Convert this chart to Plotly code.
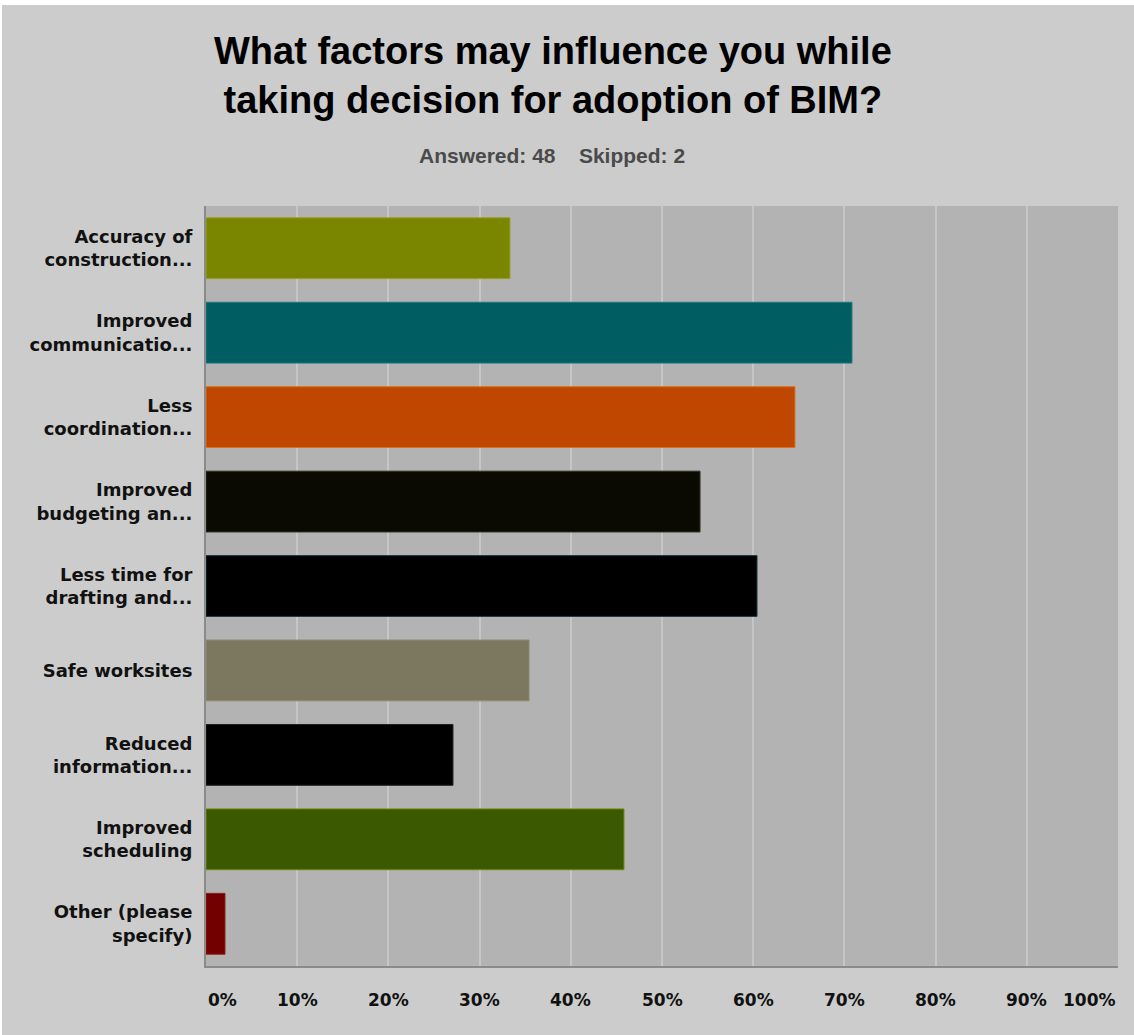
import plotly.graph_objects as go

# Survey results: share of respondents choosing each factor
categories = [
    "Accuracy of<br>construction...",
    "Improved<br>communicatio...",
    "Less<br>coordination...",
    "Improved<br>budgeting an...",
    "Less time for<br>drafting and...",
    "Safe worksites",
    "Reduced<br>information...",
    "Improved<br>scheduling",
    "Other (please<br>specify)",
]
percent = [33.33, 70.83, 64.58, 54.17, 60.42, 35.42, 27.08, 45.83, 2.08]
bar_colors = ["#7a8500", "#005d62", "#bf4700", "#0a0a02", "#000000",
              "#7b785f", "#000000", "#3b5a00", "#730000"]
edge_colors = ["#9aa020", "#1f7a7c", "#d8731c", "#303020", "#1d3a44",
               "#8e8a70", "#202020", "#6a8a10", "#8a1a1a"]
x_ticks = [0, 10, 20, 30, 40, 50, 60, 70, 80, 90, 100]
x_tick_labels = ["0%", "10%", "20%", "30%", "40%", "50%", "60%", "70%", "80%", "90%", "100%"]

W, H = 1134, 1035
L, R, T, B = 206, 16, 206, 69
pw = W - L - R
ph = H - T - B
TITLE_FONT = "Liberation Sans, Arial, sans-serif"
LABEL_FONT = "DejaVu Sans, Verdana, sans-serif"


def px_x(x):
    """Page pixel column -> plot-paper fraction."""
    return (x - L) / pw


def px_y(y):
    """Page pixel row (from top) -> plot-paper fraction."""
    return (H - B - y) / ph


fig = go.Figure(
    go.Bar(
        x=percent,
        y=categories,
        orientation="h",
        marker=dict(color=bar_colors, line=dict(color=edge_colors, width=1)),
        width=0.72,
        hoverinfo="x+y",
    )
)

# x tick labels: first one left-aligned, last one right-aligned, the rest centred
for v, t in zip(x_ticks, x_tick_labels):
    anchor = "left" if v == x_ticks[0] else ("right" if v == x_ticks[-1] else "center")
    fig.add_annotation(
        x=v, y=0, xref="x", yref="paper", yshift=-34,
        text=f"<b>{t}</b>", showarrow=False, xanchor=anchor, yanchor="middle",
        font=dict(family=LABEL_FONT, size=17, color="#111111"),
    )

# title and response counts
fig.add_annotation(
    x=px_x(553), y=px_y(75), xref="paper", yref="paper",
    text="<b>What factors may influence you while<br>taking decision for adoption of BIM?</b>",
    showarrow=False, xanchor="center", yanchor="middle", align="center",
    font=dict(family=TITLE_FONT, size=38, color="#000000"),
)
fig.add_annotation(
    x=px_x(552), y=px_y(156), xref="paper", yref="paper",
    text="<b>Answered: 48    Skipped: 2</b>", showarrow=False,
    xanchor="center", yanchor="middle",
    font=dict(family=TITLE_FONT, size=21, color="#4a4a4a"),
)

# thin white frame along the top and left edge of the page
fig.add_shape(type="rect", xref="paper", yref="paper", layer="above",
              x0=px_x(0), x1=px_x(W), y0=px_y(5), y1=px_y(0),
              fillcolor="#ffffff", line=dict(width=0))
fig.add_shape(type="rect", xref="paper", yref="paper", layer="above",
              x0=px_x(0), x1=px_x(2), y0=px_y(H), y1=px_y(0),
              fillcolor="#ffffff", line=dict(width=0))

fig.update_layout(
    width=W, height=H,
    margin=dict(l=L, r=R, t=T, b=B),
    paper_bgcolor="#cccccc",
    plot_bgcolor="#b3b3b3",
    showlegend=False,
    xaxis=dict(
        range=[0, 100], tickvals=x_ticks, showticklabels=False,
        showgrid=True, gridcolor="#c6c6c6", gridwidth=2,
        showline=True, linecolor="#8a8a8a", linewidth=2,
        zeroline=False, fixedrange=True,
    ),
    yaxis=dict(
        autorange="reversed", showgrid=False,
        showline=True, linecolor="#8a8a8a", linewidth=2,
        tickfont=dict(family=LABEL_FONT, size=18, color="#111111", weight="bold"),
        ticklabelstandoff=8, fixedrange=True,
    ),
)

fig.write_html("out.html")
